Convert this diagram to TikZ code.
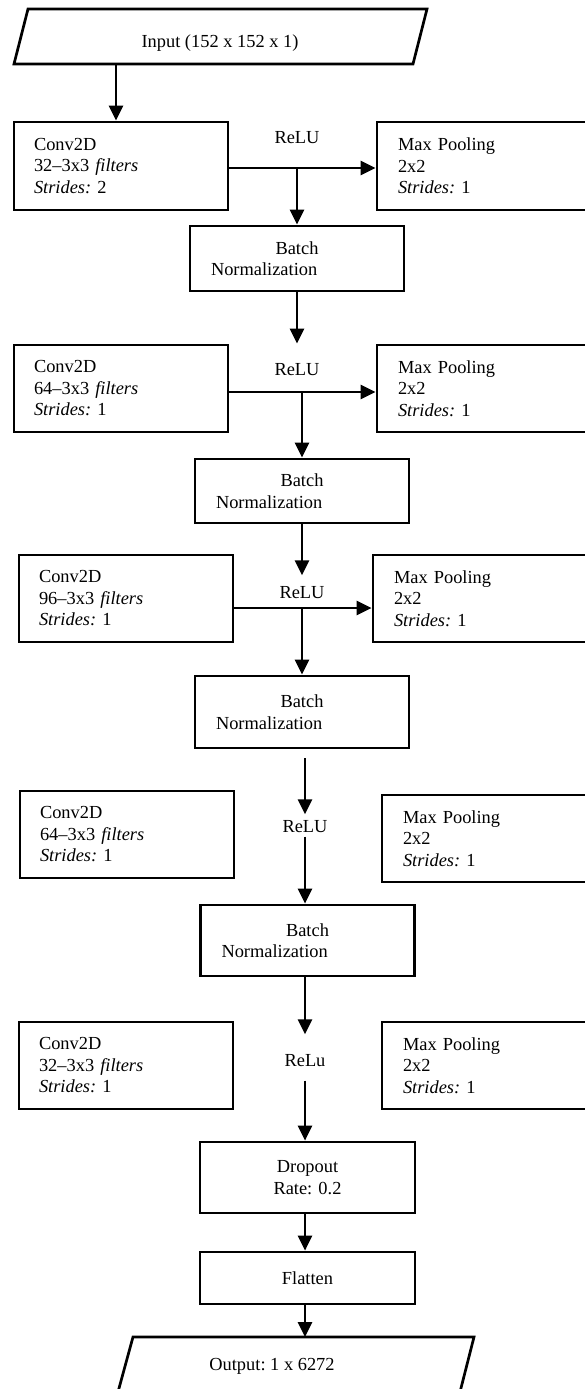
\documentclass[tikz,border=0pt]{standalone}
\usepackage{fontspec}
\setmainfont{Liberation Serif}
\usetikzlibrary{arrows.meta}

\begin{document}
\begin{tikzpicture}[x=1pt, y=-1pt,
	every node/.style={font=\fontsize{18.4}{21.5}\selectfont\frenchspacing},
	edgeline/.style={line width=2.7pt},
	box/.style={draw=black, edgeline, inner ysep=0pt},
	convbox/.style={box, align=left, text width=174pt, inner xsep=20pt, minimum height=#1},
	convbox/.default=87pt,
	poolbox/.style={box, align=left, text width=171pt, inner xsep=21pt, minimum height=#1},
	poolbox/.default=87pt,
	bnbox/.style={box, align=left, text width=172pt, inner xsep=21pt, minimum height=#1},
	layerbox/.style={box, align=center, text width=173pt, inner xsep=21pt, minimum height=#1},
	arr/.style={-{Triangle[length=15pt, width=14pt]}, edgeline}]
	\useasboundingbox (0,0) rectangle (585,1389);
	
	% Nodes
	\draw[edgeline] (28,9) -- (427,9) -- (413,64) -- (14,64) -- cycle;
	\node (inp) at (220,43) {Input (152 x 152 x 1)};
	
	\node[convbox=88pt] (conv1) at (121,166) {Conv2D\\32--3x3 \textit{filters}\\\textit{Strides:} 2};
	\node[poolbox=88pt] (pool1) at (483.5,166) {Max Pooling\\2x2\\\textit{Strides:} 1};
	\node (relu1) at (297,138) {ReLU};
	\node[bnbox=65pt] (bn1) at (297,258.5) {\makebox[\hsize]{Batch}\\Normalization};
	
	\node[convbox] (conv2) at (121,388.5) {Conv2D\\64--3x3 \textit{filters}\\\textit{Strides:} 1};
	\node[poolbox] (pool2) at (483.5,388.5) {Max Pooling\\2x2\\\textit{Strides:} 1};
	\node (relu2) at (297,370) {ReLU};
	\node[bnbox=64pt] (bn2) at (302,491) {\makebox[\hsize]{Batch}\\Normalization};
	
	\node[convbox] (conv3) at (126,598.5) {Conv2D\\96--3x3 \textit{filters}\\\textit{Strides:} 1};
	\node[poolbox] (pool3) at (479.5,598.5) {Max Pooling\\2x2\\\textit{Strides:} 1};
	\node (relu3) at (302,593) {ReLU};
	\node[bnbox=72pt] (bn3) at (302,712) {\makebox[\hsize]{Batch}\\Normalization};
	
	\node[convbox] (conv4) at (127,834.5) {Conv2D\\64--3x3 \textit{filters}\\\textit{Strides:} 1};
	\node[poolbox] (pool4) at (488.5,838.5) {Max Pooling\\2x2\\\textit{Strides:} 1};
	\node (relu4) at (305,827) {ReLU};
	\node[bnbox=71pt] (bn4) at (307.5,940.5) {\makebox[\hsize]{Batch}\\Normalization};
	
	\node[convbox] (conv5) at (126,1065.5) {Conv2D\\32--3x3 \textit{filters}\\\textit{Strides:} 1};
	\node[poolbox] (pool5) at (488.5,1065.5) {Max Pooling\\2x2\\\textit{Strides:} 1};
	\node (relu5) at (305,1061) {ReLu};
	
	\node[layerbox=71pt] (drop) at (307.5,1177.5) {Dropout\\Rate: 0.2};
	\node[layerbox=52pt] (flat) at (307.5,1278) {Flatten};
	
	\draw[edgeline] (133,1337) -- (474,1337) -- (460,1392) -- (118,1392) -- cycle;
	\node (outp) at (272,1366) {Output: 1 x 6272};
	
	% Edges
	\coordinate (inpout) at (116,64);
	\coordinate (j1) at (297,168);
	\coordinate (j2) at (302,392);
	\coordinate (j3) at (302,608);
	\coordinate (c4) at (305,758);
	\coordinate (outtop) at (305,1337);
	
	\draw[arr] (inpout) -- (conv1.north -| inpout);
	\draw[arr] (conv1.east |- j1) -- (pool1.west |- j1);
	\draw[arr] (j1) -- (bn1.north);
	
	\draw[arr] (bn1.south) -- (bn1.south |- conv2.north);
	\draw[arr] (conv2.east |- j2) -- (pool2.west |- j2);
	\draw[arr] (j2) -- (bn2.north);
	
	\draw[arr] (bn2.south) -- ([yshift=8pt]relu3.north);
	\draw[arr] (conv3.east |- j3) -- (pool3.west |- j3);
	\draw[arr] (j3) -- (bn3.north);
	
	\draw[arr] (c4) -- ([yshift=3pt]relu4.north);
	\draw[arr] (relu4.south) -- (bn4.north -| relu4);
	
	\draw[arr] (bn4.south -| relu5) -- ([yshift=17pt]relu5.north);
	\draw[arr] ([yshift=-10pt]relu5.south) -- (drop.north -| relu5);
	\draw[arr] (drop.south -| relu5) -- (flat.north -| relu5);
	\draw[arr] (flat.south -| relu5) -- (outtop);
\end{tikzpicture}
\end{document}
